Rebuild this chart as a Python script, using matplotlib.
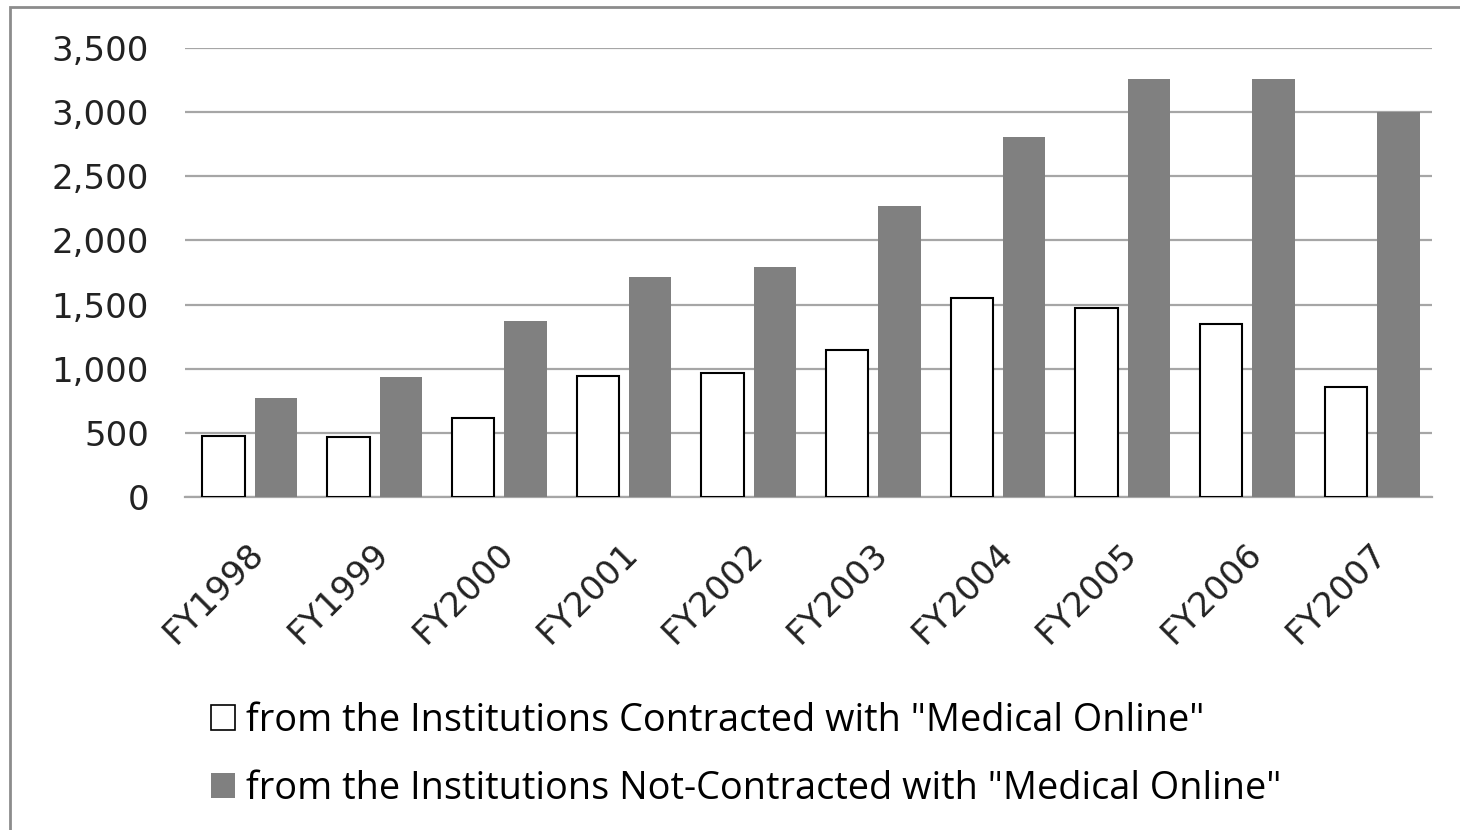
import matplotlib.pyplot as plt
import matplotlib.patches as mpatches
import numpy as np

years = ['FY1998', 'FY1999', 'FY2000', 'FY2001', 'FY2002',
         'FY2003', 'FY2004', 'FY2005', 'FY2006', 'FY2007']
contracted = [477, 465, 612, 940, 965, 1142, 1549, 1474, 1352, 858]
not_contracted = [775, 934, 1370, 1715, 1790, 2269, 2806, 3259, 3259, 3000]

lab_c = 'from the Institutions Contracted with "Medical Online"'
lab_n = 'from the Institutions Not-Contracted with "Medical Online"'

fig = plt.figure(figsize=(14.6, 8.3), dpi=100)
ax = fig.add_axes([185/1460, 1-497/830, (1432-185)/1460, (497-48)/830])

x = np.arange(len(years))
w = 0.34
ax.bar(x - 0.19, contracted, w, color='white', edgecolor='black', linewidth=1.5, zorder=3)
ax.bar(x + 0.23, not_contracted, w, color='#808080', edgecolor='none', zorder=3)

ax.set_xlim(-0.5, len(years) - 0.5)
ax.set_ylim(0, 3500)
ax.set_yticks(np.arange(0, 3501, 500))
ax.set_yticklabels(['{:,}'.format(v) for v in range(0, 3501, 500)], fontsize=24.5, color='#222222')
ax.yaxis.grid(True, color='#a6a6a6', linewidth=1.6, zorder=0)
ax.tick_params(axis='y', length=0, pad=26)
ax.set_xticks(x)
ax.set_xticklabels(years, rotation=45, ha='right', rotation_mode='anchor', fontsize=24.5, color='#222222')
ax.tick_params(axis='x', length=0, pad=29)

for s in ['top', 'right', 'left']:
    ax.spines[s].set_visible(False)
ax.spines['bottom'].set_color('#a6a6a6')
ax.spines['bottom'].set_linewidth(1.6)

# legend below the chart
h1 = mpatches.Patch(facecolor='white', edgecolor='black', linewidth=1.2)
h2 = mpatches.Patch(facecolor='#808080', edgecolor='none')
fig.legend([h1, h2], [lab_c, lab_n], loc='center left',
           bbox_to_anchor=(211/1460, 1-755/830), frameon=False,
           prop={'family': 'Open Sans', 'size': 27.3}, handlelength=0.63, handleheight=0.63,
           handletextpad=0.3, labelspacing=0.8, borderpad=0, borderaxespad=0)

# outer border
fig.patches.append(mpatches.Rectangle((10/1460, -0.05), 1.1, 1 - 7/830 + 0.05,
                                      transform=fig.transFigure, fill=False,
                                      edgecolor='#8c8c8c', linewidth=2))

fig.savefig('out.png', dpi=100)
